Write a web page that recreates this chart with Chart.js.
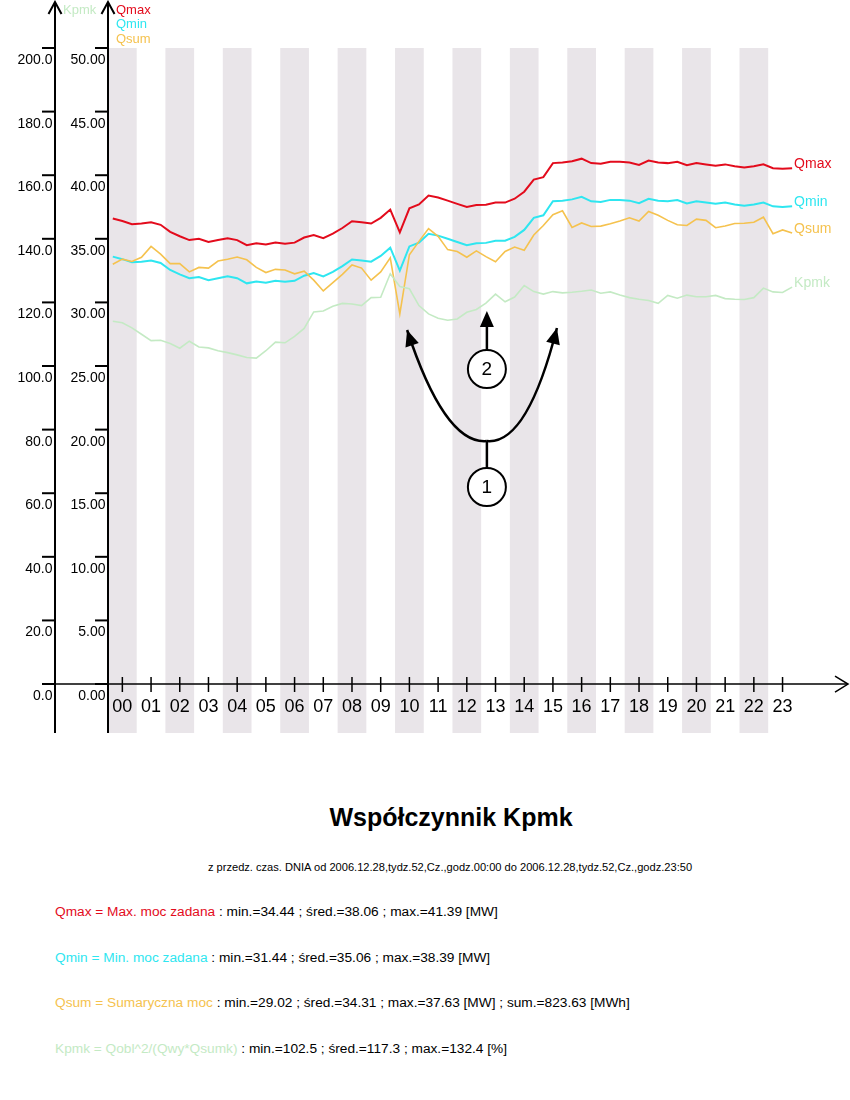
<!DOCTYPE html>
<html>
<head>
<meta charset="utf-8">
<script src="https://cdn.jsdelivr.net/npm/chart.js@4.4.1/dist/chart.umd.min.js"></script>
<style>
  body { margin: 0; width: 850px; height: 1100px; overflow: hidden; background: #fff; font-family: "Liberation Sans", Arial, sans-serif; }
  #wrap { position: absolute; left: 0; top: 0; width: 850px; height: 760px; }
  .txt { position: absolute; white-space: nowrap; color: #000; }
  .title { left: 0; width: 902px; top: 802px; line-height: 30px; text-align: center; font-weight: bold; font-size: 25px; }
  .sub { left: 0; width: 900px; top: 859px; line-height: 16px; text-align: center; font-size: 11.1px; }
  .stat { left: 55px; line-height: 20px; font-size: 13.7px; }
</style>
</head>
<body>
<div id="wrap"><canvas id="kpmkChart" width="850" height="760"></canvas></div>

<div class="txt title">Współczynnik Kpmk</div>
<div class="txt sub">z przedz. czas. DNIA od 2006.12.28,tydz.52,Cz.,godz.00:00 do 2006.12.28,tydz.52,Cz.,godz.23:50</div>
<div class="txt stat" style="top:902px"><span style="color:#e30b1c">Qmax = Max. moc zadana</span> : min.=34.44 ; śred.=38.06 ; max.=41.39 [MW]</div>
<div class="txt stat" style="top:948px"><span style="color:#2ee6f0">Qmin = Min. moc zadana</span> : min.=31.44 ; śred.=35.06 ; max.=38.39 [MW]</div>
<div class="txt stat" style="top:993px"><span style="color:#f5c24e">Qsum = Sumaryczna moc</span> : min.=29.02 ; śred.=34.31 ; max.=37.63 [MW] ; sum.=823.63 [MWh]</div>
<div class="txt stat" style="top:1039px"><span style="color:#c4eac4">Kpmk = Qobl^2/(Qwy*Qsumk)</span> : min.=102.5 ; śred.=117.3 ; max.=132.4 [%]</div>

<script>
// hour labels on the time axis, bands on even hours
const hourLabels = ["00", "01", "02", "03", "04", "05", "06", "07", "08", "09", "10", "11",
  "12", "13", "14", "15", "16", "17", "18", "19", "20", "21", "22", "23"];
const bandHours = [0, 2, 4, 6, 8, 10, 12, 14, 16, 18, 20, 22];
const qTicks = [0, 5, 10, 15, 20, 25, 30, 35, 40, 45, 50];
const kpmkTicks = [0, 20, 40, 60, 80, 100, 120, 140, 160, 180, 200];

// 20-minute samples, [MW]
const qmax = [36.6, 36.4, 36.15, 36.2, 36.3, 36.1, 35.55, 35.2, 34.9, 35.0,
  34.75, 34.9, 35.05, 34.9, 34.5, 34.65, 34.55, 34.7, 34.62, 34.7,
  35.1, 35.3, 35.05, 35.4, 35.85, 36.38, 36.3, 36.2, 36.65, 37.3,
  35.5, 37.4, 37.7, 38.4, 38.25, 38.0, 37.75, 37.5, 37.65, 37.68,
  37.85, 37.85, 38.15, 38.7, 39.65, 39.85, 40.95, 41.0, 41.1, 41.3,
  40.95, 40.9, 41.06, 41.05, 41.0, 40.8, 41.15, 41.0, 40.95, 41.05,
  40.78, 40.95, 40.85, 40.75, 40.85, 40.7, 40.6, 40.7, 40.85, 40.55,
  40.5, 40.55];
const qmin = [33.6, 33.4, 33.15, 33.2, 33.3, 33.1, 32.55, 32.2, 31.9, 32.0,
  31.75, 31.9, 32.05, 31.9, 31.5, 31.65, 31.55, 31.7, 31.62, 31.7,
  32.1, 32.3, 32.05, 32.4, 32.85, 33.38, 33.3, 33.2, 33.65, 34.3,
  32.5, 34.4, 34.7, 35.4, 35.25, 35.0, 34.75, 34.5, 34.65, 34.68,
  34.85, 34.85, 35.15, 35.7, 36.65, 36.85, 37.95, 38.0, 38.1, 38.3,
  37.95, 37.9, 38.06, 38.05, 38.0, 37.8, 38.15, 38.0, 37.95, 38.05,
  37.78, 37.95, 37.85, 37.75, 37.85, 37.7, 37.6, 37.7, 37.85, 37.55,
  37.5, 37.55];
const qsum = [33.0, 33.4, 33.22, 33.55, 34.4, 33.8, 33.05, 33.05, 32.4, 32.75,
  32.7, 33.25, 33.4, 33.57, 33.35, 32.75, 32.35, 32.6, 32.55, 32.25,
  32.45, 31.75, 30.9, 31.55, 32.2, 32.95, 32.7, 31.75, 32.4, 33.5,
  29.1, 33.75, 34.8, 35.8, 35.2, 34.15, 34.0, 33.55, 34.05, 33.6,
  33.2, 34.0, 34.35, 34.1, 35.3, 36.05, 36.9, 37.2, 35.9, 36.25,
  35.97, 36.0, 36.18, 36.4, 36.65, 36.4, 37.15, 36.85, 36.45, 36.1,
  36.05, 36.55, 36.45, 35.87, 36.0, 36.2, 36.22, 36.3, 36.7, 35.4,
  35.7, 35.45];
// [%]
const kpmk = [114.1, 113.6, 112.0, 110.0, 108.0, 108.1, 107.1, 105.6, 107.8, 106.0,
  105.7, 104.8, 104.2, 103.5, 102.7, 102.5, 104.8, 107.5, 107.3, 109.3,
  111.8, 117.0, 117.3, 118.8, 119.7, 119.5, 119.0, 121.5, 121.6, 129.0,
  125.0, 124.3, 119.0, 116.4, 115.0, 114.4, 114.8, 116.9, 117.8, 119.8,
  122.6, 120.2, 121.7, 125.3, 123.4, 122.6, 123.4, 123.0, 123.2, 123.5,
  123.9, 122.9, 123.3, 122.3, 121.5, 121.0, 120.6, 119.7, 122.2, 121.3,
  122.3, 121.8, 121.8, 122.2, 121.2, 121.0, 120.9, 121.5, 124.5, 123.3,
  123.1, 124.8];

// sample time in hours (middle of each 20 min slot)
const times = qmax.map((_, i) => (10 + i * 20) / 60);

// numbered call-outs, in chart units (hour, MW)
const callout1 = { x: 13.2, y: 15.49 };
const callout2 = { x: 13.2, y: 24.76 };
const arrow2Tip = { x: 13.2, y: 29.32 };
const forkPoint = { x: 13.2, y: 19.1 };
const forkLeft = { ctrl: { x: 11.74, y: 18.79 }, tip: { x: 10.42, y: 27.83 } };
const forkRight = { ctrl: { x: 14.6, y: 18.79 }, tip: { x: 15.64, y: 27.99 } };

const series = [
  { name: "Qmax", data: qmax, color: "#e30b1c", width: 2, axis: "yQ" },
  { name: "Qmin", data: qmin, color: "#2ee6f0", width: 2, axis: "yQ" },
  { name: "Qsum", data: qsum, color: "#f5c24e", width: 1.6, axis: "yQ" },
  { name: "Kpmk", data: kpmk, color: "#c4eac4", width: 1.6, axis: "yK" }
];

const FONT = "'Liberation Sans', Arial, sans-serif";
const Q_BOTTOM = -3.85;   // axes run a bit below zero
const X_MAX = 25.78;
const KPMK_AXIS_X = 55;
const CIRCLE_R = 19;

function drawArrowHead(ctx, from, tip) {
  const angle = Math.atan2(tip.y - from.y, tip.x - from.x);
  const len = 16;
  const half = 7;
  const bx = tip.x - Math.cos(angle) * len;
  const by = tip.y - Math.sin(angle) * len;
  ctx.beginPath();
  ctx.moveTo(tip.x, tip.y);
  ctx.lineTo(bx + Math.sin(angle) * half, by - Math.cos(angle) * half);
  ctx.lineTo(bx - Math.sin(angle) * half, by + Math.cos(angle) * half);
  ctx.closePath();
  ctx.fill();
}

const axisPlugin = {
  id: "axisPlugin",
  afterDatasetsDraw(chart) {
    const { ctx, chartArea, scales } = chart;
    const qScale = scales.yQ;
    const kScale = scales.yK;
    const xScale = scales.x;
    const zeroY = qScale.getPixelForValue(0);
    const qAxisX = chartArea.left;
    const axisTop = 2;
    const px = (p) => ({ x: xScale.getPixelForValue(p.x), y: qScale.getPixelForValue(p.y) });

    const line = (x1, y1, x2, y2) => {
      ctx.beginPath();
      ctx.moveTo(x1, y1);
      ctx.lineTo(x2, y2);
      ctx.stroke();
    };

    ctx.save();
    ctx.strokeStyle = "#000";
    ctx.fillStyle = "#000";
    ctx.lineWidth = 2;

    [KPMK_AXIS_X, qAxisX].forEach((ax) => {
      line(ax, chartArea.bottom, ax, axisTop);
      ctx.beginPath();
      ctx.moveTo(ax - 6.5, axisTop + 12);
      ctx.lineTo(ax, axisTop);
      ctx.lineTo(ax + 6.5, axisTop + 12);
      ctx.stroke();
    });

    ctx.font = `14px ${FONT}`;
    ctx.textAlign = "right";
    ctx.textBaseline = "alphabetic";
    kpmkTicks.forEach((value) => {
      const y = kScale.getPixelForValue(value);
      line(KPMK_AXIS_X - 13, y, KPMK_AXIS_X, y);
      ctx.fillText(value.toFixed(1), KPMK_AXIS_X - 2.5, y + 16);
    });
    qTicks.forEach((value) => {
      const y = qScale.getPixelForValue(value);
      line(qAxisX - 13, y, qAxisX, y);
      ctx.fillText(value.toFixed(2), qAxisX - 2.5, y + 16);
    });

    // time axis with arrow
    ctx.lineWidth = 1.5;
    line(KPMK_AXIS_X - 13, zeroY, chartArea.right, zeroY);
    ctx.beginPath();
    ctx.moveTo(chartArea.right - 13, zeroY - 8);
    ctx.lineTo(chartArea.right, zeroY);
    ctx.lineTo(chartArea.right - 13, zeroY + 8);
    ctx.stroke();

    ctx.font = `18px ${FONT}`;
    ctx.textAlign = "center";
    hourLabels.forEach((label, hour) => {
      const x = xScale.getPixelForValue(hour + 0.5);
      line(x, zeroY - 7, x, zeroY + 8);
      ctx.fillText(label, x, zeroY + 28);
    });

    // call-outs "1" and "2"
    const c1 = px(callout1);
    const c2 = px(callout2);
    const tip2 = px(arrow2Tip);
    const fork = px(forkPoint);
    ctx.lineWidth = 2.5;
    line(c2.x, c2.y - CIRCLE_R, tip2.x, tip2.y + 10);
    drawArrowHead(ctx, { x: c2.x, y: c2.y }, tip2);
    line(c1.x, c1.y - CIRCLE_R, fork.x, fork.y);
    [forkLeft, forkRight].forEach((branch) => {
      const ctrl = px(branch.ctrl);
      const tip = px(branch.tip);
      ctx.beginPath();
      ctx.moveTo(fork.x, fork.y);
      ctx.quadraticCurveTo(ctrl.x, ctrl.y, tip.x, tip.y);
      ctx.stroke();
      drawArrowHead(ctx, ctrl, tip);
    });
    ctx.lineWidth = 2;
    ctx.font = `19px ${FONT}`;
    ctx.textBaseline = "middle";
    [[c1, "1"], [c2, "2"]].forEach(([c, text]) => {
      ctx.beginPath();
      ctx.arc(c.x, c.y, CIRCLE_R, 0, Math.PI * 2);
      ctx.fillStyle = "#fff";
      ctx.fill();
      ctx.stroke();
      ctx.fillStyle = "#000";
      ctx.fillText(text, c.x, c.y + 1);
    });

    // names at the end of each line
    ctx.font = `14px ${FONT}`;
    ctx.textAlign = "left";
    series.forEach((s, index) => {
      const points = chart.getDatasetMeta(index + 1).data;
      const last = points[points.length - 1];
      ctx.fillStyle = s.color;
      ctx.fillText(s.name, last.x + 2, last.y - 4);
    });

    // axis captions at the top
    ctx.font = `13px ${FONT}`;
    ctx.fillStyle = series[3].color;
    ctx.fillText("Kpmk", KPMK_AXIS_X + 8, 10);
    [0, 1, 2].forEach((i) => {
      ctx.fillStyle = series[i].color;
      ctx.fillText(series[i].name, qAxisX + 8, 10 + i * 14.5);
    });
    ctx.restore();
  }
};

const datasets = [{
  type: "bar",
  label: "bands",
  data: bandHours.map((h) => ({ x: h + 0.5, y: [Q_BOTTOM, 50] })),
  backgroundColor: "#e9e5e9",
  borderWidth: 0,
  barPercentage: 0.5,
  categoryPercentage: 1,
  xAxisID: "x",
  yAxisID: "yQ",
  order: 10
}].concat(series.map((s, index) => ({
  type: "line",
  label: s.name,
  data: s.data.map((v, i) => ({ x: times[i], y: v })),
  borderColor: s.color,
  borderWidth: s.width,
  pointRadius: 0,
  tension: 0,
  fill: false,
  xAxisID: "x",
  yAxisID: s.axis,
  order: 4 - index
})));

new Chart(document.getElementById("kpmkChart"), {
  type: "line",
  data: { datasets },
  options: {
    responsive: false,
    animation: false,
    layout: { padding: { left: 108, right: 2, top: 48, bottom: 27 } },
    plugins: { legend: { display: false }, tooltip: { enabled: false } },
    scales: {
      x: { type: "linear", display: false, min: 0, max: X_MAX, offset: false,
        ticks: { stepSize: 2, includeBounds: false } },
      yQ: { type: "linear", display: false, min: Q_BOTTOM, max: 50 },
      yK: { type: "linear", display: false, min: Q_BOTTOM * 4, max: 200 }
    }
  },
  plugins: [axisPlugin]
});
</script>
</body>
</html>
